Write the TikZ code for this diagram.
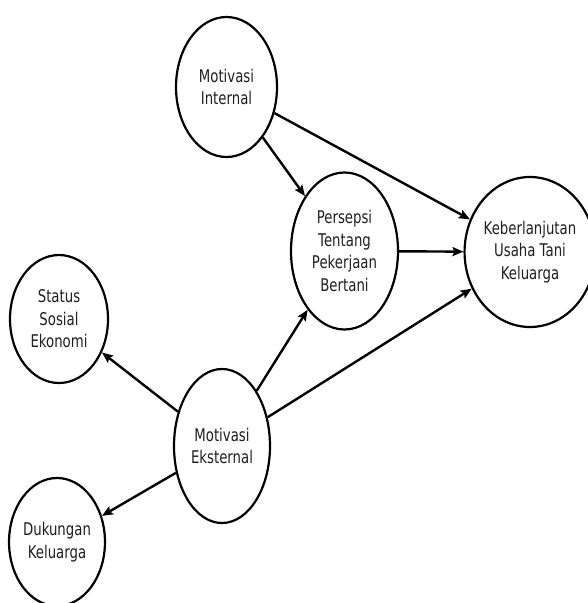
\documentclass[tikz,border=0pt]{standalone}
\usepackage{fontspec}
\usetikzlibrary{shapes.geometric,arrows.meta}
\newfontfamily\lblfont[FakeStretch=0.76]{DejaVu Sans}
\begin{document}
\begin{tikzpicture}[x=1pt,y=-1pt,
  ell/.style={ellipse,draw=black,line width=2.2pt,inner sep=0pt,align=center,
    text=black!88,font=\lblfont\fontsize{17.5}{22.5}\selectfont},
  arr/.style={line width=2.4pt,-{Stealth[length=11pt,width=9pt,inset=2pt]}}]
\useasboundingbox (0,0) rectangle (587,603);
\node[ell,minimum width=101pt,minimum height=140pt] (mi) at (226.5,87) {Motivasi\\Internal};
\node[ell,minimum width=107pt,minimum height=157pt] (pp) at (344.5,251) {Persepsi\\Tentang\\Pekerjaan\\Bertani};
\node[ell,minimum width=116pt,minimum height=150pt] (kb) at (530,252) {Keberlanjutan\\Usaha Tani\\Keluarga};
\node[ell,minimum width=98pt,minimum height=128pt] (ss) at (59,319) {Status\\Sosial\\Ekonomi};
\node[ell,minimum width=96pt,minimum height=154pt] (me) at (222,446) {Motivasi\\Eksternal};
\node[ell,minimum width=89pt,minimum height=128pt] (dk) at (57,542) {Dukungan\\Keluarga};
\draw[arr] (mi) -- (pp);
\draw[arr] (mi) -- (kb);
\draw[arr] (pp) -- (kb);
\draw[arr] (me) -- (pp);
\draw[arr] (me) -- (kb);
\draw[arr] (me) -- (ss);
\draw[arr] (me) -- (dk);
\end{tikzpicture}
\end{document}
